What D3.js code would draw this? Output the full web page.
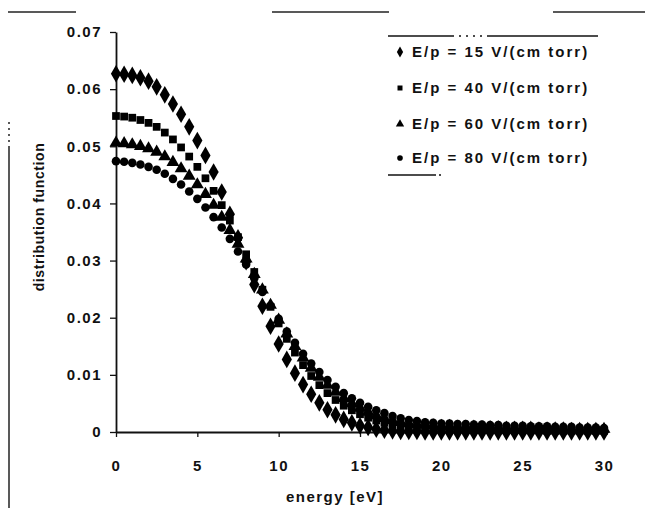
<!DOCTYPE html>
<html>
<head>
<meta charset="utf-8">
<script src="https://cdn.jsdelivr.net/npm/d3@7"></script>
<style>
  html, body { margin: 0; padding: 0; background: #fff; }
  svg { display: block; }
  text { font-family: "Liberation Sans", Arial, sans-serif; font-weight: bold; fill: #111; }
</style>
</head>
<body>
<svg id="chart" width="645" height="508"></svg>
<script>
// ---- data ----
const energy = [0,0.5,1,1.5,2,2.5,3,3.5,4,4.5,5,5.5,6,6.5,7,7.5,8,8.5,9,9.5,10,10.5,11,11.5,12,12.5,13,13.5,14,14.5,15,15.5,16,16.5,17,17.5,18,18.5,19,19.5,20,20.5,21,21.5,22,22.5,23,23.5,24,24.5,25,25.5,26,26.5,27,27.5,28,28.5,29,29.5,30];

const ep15 = [0.0627,0.0626,0.0624,0.0620,0.0614,0.0604,0.0590,0.0574,0.0556,0.0534,0.0510,0.0484,0.0455,0.0420,0.0381,0.0340,0.0298,0.0258,0.0220,0.0185,0.0154,0.0127,0.0103,0.0083,0.0066,0.0051,0.0039,0.0030,0.0022,0.0016,0.0011,0.0008,0.0005,0.0003,0.0002,0.0001,0.0001,0.0001,0,0,0,0,0,0,0,0,0,0,0,0,0,0,0,0,0,0,0,0,0,0,0];

const ep40 = [0.0553,0.0552,0.0550,0.0546,0.0541,0.0534,0.0524,0.0512,0.0498,0.0482,0.0464,0.0444,0.0422,0.0397,0.0370,0.0341,0.0311,0.0280,0.0249,0.0219,0.0190,0.0163,0.0139,0.0117,0.0098,0.0082,0.0068,0.0056,0.0046,0.0038,0.0031,0.0025,0.0020,0.0016,0.0013,0.0011,0.0009,0.0008,0.0007,0.0006,0.0005,0.0005,0.0005,0.0004,0.0004,0.0004,0.0004,0.0003,0.0003,0.0003,0.0003,0.0003,0.0003,0.0002,0.0002,0.0002,0.0002,0.0002,0.0002,0.0002,0.0002];

const ep60 = [0.0506,0.0505,0.0503,0.0500,0.0496,0.0490,0.0482,0.0472,0.0461,0.0448,0.0433,0.0416,0.0397,0.0376,0.0353,0.0329,0.0303,0.0276,0.0249,0.0222,0.0196,0.0172,0.0150,0.0130,0.0112,0.0096,0.0082,0.0070,0.0059,0.0050,0.0042,0.0035,0.0029,0.0024,0.0020,0.0017,0.0015,0.0013,0.0012,0.0011,0.0010,0.0010,0.0009,0.0009,0.0009,0.0008,0.0008,0.0008,0.0007,0.0007,0.0007,0.0007,0.0006,0.0006,0.0006,0.0006,0.0005,0.0005,0.0005,0.0005,0.0005];

const ep80 = [0.0474,0.0473,0.0471,0.0468,0.0464,0.0459,0.0452,0.0443,0.0433,0.0421,0.0408,0.0393,0.0376,0.0358,0.0338,0.0316,0.0293,0.0269,0.0245,0.0221,0.0198,0.0176,0.0156,0.0137,0.0120,0.0105,0.0091,0.0079,0.0068,0.0059,0.0051,0.0044,0.0038,0.0033,0.0028,0.0024,0.0021,0.0019,0.0017,0.0016,0.0015,0.0015,0.0014,0.0014,0.0013,0.0013,0.0012,0.0012,0.0011,0.0011,0.0011,0.0010,0.0010,0.0010,0.0009,0.0009,0.0009,0.0008,0.0008,0.0008,0.0007];

const seriesNames = ["E/p = 15 V/(cm torr)", "E/p = 40 V/(cm torr)", "E/p = 60 V/(cm torr)", "E/p = 80 V/(cm torr)"];
const seriesValues = [ep15, ep40, ep60, ep80];
const xTicks = [0, 5, 10, 15, 20, 25, 30];
const yTicks = [0, 0.01, 0.02, 0.03, 0.04, 0.05, 0.06, 0.07];
const xTitle = "energy [eV]";
const yTitle = "distribution function";

// ---- drawing ----
const svg = d3.select("#chart");
svg.append("rect").attr("width", 645).attr("height", 508).attr("fill", "#fff");

const x = d3.scaleLinear().domain([0, 30]).range([116, 604]);
const y = d3.scaleLinear().domain([0, 0.07]).range([432, 32]);

// scan frame fragments
const frame = svg.append("g").attr("stroke", "#222").attr("stroke-width", 1.5);
frame.append("line").attr("x1", 8).attr("x2", 76).attr("y1", 12).attr("y2", 12);
frame.append("line").attr("x1", 272).attr("x2", 389).attr("y1", 12).attr("y2", 12);
frame.append("line").attr("x1", 553).attr("x2", 645).attr("y1", 12).attr("y2", 12);
frame.append("line").attr("x1", 9).attr("x2", 9).attr("y1", 148).attr("y2", 508);
frame.append("line").attr("x1", 9).attr("x2", 9).attr("y1", 122).attr("y2", 148).attr("stroke-dasharray", "2,4");

// axes
const xAxis = d3.axisBottom(x).tickValues(xTicks).tickFormat(d3.format("d")).tickSize(5).tickSizeOuter(0);
const yAxis = d3.axisLeft(y).tickValues(yTicks).tickFormat(d => d === 0 ? "0" : d3.format(".2f")(d)).tickSize(6).tickSizeOuter(0);

const gx = svg.append("g").attr("transform", "translate(0,432)").call(xAxis);
const gy = svg.append("g").attr("transform", "translate(116,0)").call(yAxis);
[gx, gy].forEach(g => {
  g.select(".domain").attr("stroke", "#111").attr("stroke-width", 1.8);
  g.selectAll(".tick line").attr("stroke", "#111").attr("stroke-width", 1.3);
  g.selectAll(".tick text").style("font-size", "15px").style("letter-spacing", "1.5px").attr("fill", "#111");
});
gx.selectAll(".tick text").attr("dy", "2.05em");
gy.selectAll(".tick text").attr("x", -14);

svg.append("text").attr("x", 335).attr("y", 502).attr("text-anchor", "middle")
  .style("font-size", "15px").style("letter-spacing", "1.5px").text(xTitle);
svg.append("text").attr("transform", "translate(44,217) rotate(-90)").attr("text-anchor", "middle")
  .style("font-size", "14px").style("letter-spacing", "0.6px").text(yTitle);

// markers
const symbols = [d3.symbolDiamond, d3.symbolSquare, d3.symbolTriangle, d3.symbolCircle];
const sizes = [90, 60, 72, 58];
const plot = svg.append("g");
seriesValues.forEach((vals, i) => {
  const sym = d3.symbol().type(symbols[i]).size(sizes[i]);
  plot.append("g").selectAll("path")
    .data(energy.map((e, j) => [e, vals[j]]))
    .join("path")
    .attr("d", sym)
    .attr("transform", d => `translate(${x(d[0])},${y(d[1])})`)
    .attr("fill", "#000");
});

// legend
const lg = svg.append("g");
lg.append("line").attr("x1", 388).attr("x2", 452).attr("y1", 36).attr("y2", 36).attr("stroke", "#111").attr("stroke-width", 1.5);
lg.append("line").attr("x1", 452).attr("x2", 487).attr("y1", 36).attr("y2", 36).attr("stroke", "#111").attr("stroke-width", 1.5).attr("stroke-dasharray", "2,5");
lg.append("line").attr("x1", 487).attr("x2", 598).attr("y1", 36).attr("y2", 36).attr("stroke", "#111").attr("stroke-width", 1.5);
lg.append("line").attr("x1", 388).attr("x2", 434).attr("y1", 175).attr("y2", 175).attr("stroke", "#111").attr("stroke-width", 1.5);
lg.append("line").attr("x1", 434).attr("x2", 442).attr("y1", 175).attr("y2", 175).attr("stroke", "#111").attr("stroke-width", 1.5).attr("stroke-dasharray", "2,3");
const legY = [52, 88, 124, 158];
const legSizes = [34, 25, 30, 25];
seriesNames.forEach((name, i) => {
  lg.append("path").attr("d", d3.symbol().type(symbols[i]).size(legSizes[i]))
    .attr("transform", `translate(400,${legY[i]})`).attr("fill", "#000");
  lg.append("text").attr("x", 412).attr("y", legY[i]).attr("dy", "0.36em")
    .style("font-size", "15px").style("letter-spacing", "2px").text(name);
});
</script>
</body>
</html>
